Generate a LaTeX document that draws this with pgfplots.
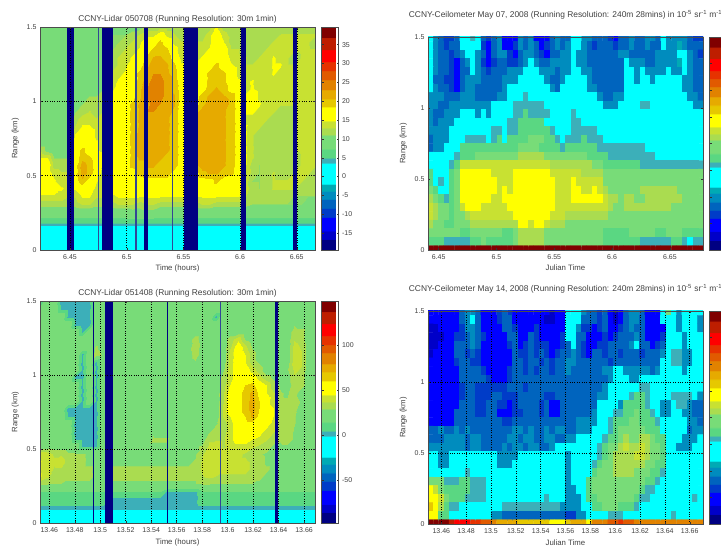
\documentclass[border=0pt]{standalone}
\usepackage{pgfplots}
\usepackage{pgfplotstable}
\usepackage{fontspec}
\setmainfont{Liberation Sans}
\pgfplotsset{compat=1.18}
\pgfplotsset{colormap={jetb}{
rgb255(0pt)=(0,0,130) rgb255(2.95pt)=(0,0,130)
rgb255(3pt)=(0,0,200) rgb255(5.45pt)=(0,0,200)
rgb255(5.5pt)=(0,0,255) rgb255(9.45pt)=(0,0,255)
rgb255(9.5pt)=(0,60,200) rgb255(11.95pt)=(0,60,200)
rgb255(12pt)=(0,100,190) rgb255(14.45pt)=(0,100,190)
rgb255(14.5pt)=(0,140,190) rgb255(16.95pt)=(0,140,190)
rgb255(17pt)=(0,170,180) rgb255(18.95pt)=(0,170,180)
rgb255(19pt)=(0,255,255) rgb255(24.95pt)=(0,255,255)
rgb255(25pt)=(60,175,185) rgb255(26.45pt)=(60,175,185)
rgb255(26.5pt)=(90,215,130) rgb255(28.95pt)=(90,215,130)
rgb255(29pt)=(120,220,120) rgb255(32.95pt)=(120,220,120)
rgb255(33pt)=(170,220,80) rgb255(34.95pt)=(170,220,80)
rgb255(35pt)=(200,225,50) rgb255(36.95pt)=(200,225,50)
rgb255(37pt)=(255,255,0) rgb255(40.95pt)=(255,255,0)
rgb255(41pt)=(230,200,0) rgb255(43.45pt)=(230,200,0)
rgb255(43.5pt)=(230,170,0) rgb255(45.95pt)=(230,170,0)
rgb255(46pt)=(225,130,0) rgb255(48.95pt)=(225,130,0)
rgb255(49pt)=(225,90,0) rgb255(51.45pt)=(225,90,0)
rgb255(51.5pt)=(230,50,0) rgb255(53.95pt)=(230,50,0)
rgb255(54pt)=(255,0,0) rgb255(57.45pt)=(255,0,0)
rgb255(57.5pt)=(190,30,0) rgb255(60.95pt)=(190,30,0)
rgb255(61pt)=(128,0,0) rgb255(64pt)=(128,0,0)
}}
\definecolor{navy}{RGB}{0,0,130}
\definecolor{thinb}{RGB}{50,70,150}
\definecolor{txt}{gray}{0.25}

% Lidar 05/07 : rows top to bottom, 40 columns
\pgfplotstableread[header=false]{
9 9 9 9 9 9 9 9 9 9  10 10 10 10 10 12 12 12 12 12  11 11 11 11 12 15 12 11 11 11  11 11 11 11 11 12 12 12 12 12
9 9 9 9 9 9 9 9 9 9  11 11 11 12 13 14 14 17 14 13  12 12 12 12 14 17 14 12 12 12  12 12 12 12 13 13 13 13 13 13
9 9 9 9 9 9 9 9 9 10  11 11 12 13 14 17 17 19 17 14  13 13 13 13 14 17 15 12 12 12  12 12 12 13 13 13 13 13 13 12
9 8 8 9 9 9 9 9 9 10  11 12 13 14 15 17 19 20 19 16  13 13 13 14 15 17 17 13 13 12  12 12 13 14 13 13 13 13 13 13
9 8 8 8 9 9 9 9 9 10  12 13 14 15 17 19 21 21 20 17  14 14 14 15 17 17 17 14 13 13  12 13 13 15 14 13 12 13 13 13
9 8 8 8 9 9 9 9 10 11  12 13 14 17 17 20 22 22 21 19  15 14 15 17 17 19 17 15 14 13  13 13 13 15 15 13 13 13 13 13
9 8 8 8 9 9 9 9 10 11  13 14 15 17 19 21 23 23 21 20  15 15 17 17 19 20 19 17 14 14  13 13 13 15 14 13 13 13 13 13
9 8 8 9 9 9 9 9 10 11  13 15 17 17 19 22 24 24 22 20  17 15 17 17 19 20 19 17 15 14  15 13 13 14 13 13 13 13 13 13
9 8 8 9 9 9 9 10 10 11  14 16 17 17 20 23 25 24 22 20  17 15 17 17 20 21 20 17 17 14  15 14 13 13 13 13 13 13 13 13
9 9 9 9 9 9 10 11 11 12  15 17 17 17 20 23 25 24 22 21  17 15 17 20 21 22 21 20 17 15  17 14 13 13 13 13 13 13 13 13
9 9 9 9 9 10 11 12 12 13  15 17 17 19 21 22 24 23 22 21  17 15 17 20 22 22 22 20 17 15  17 15 13 13 13 13 13 13 13 13
9 9 9 9 9 11 12 13 12 13  17 17 17 19 21 23 23 22 22 20  17 15 20 22 22 22 21 20 17 15  15 14 13 13 12 12 13 13 13 13
9 9 9 9 9 12 14 14 13 13  17 17 17 19 21 22 22 22 21 20  17 16 20 22 22 22 21 20 17 14  14 13 13 12 12 12 13 13 13 13
9 9 8 9 10 13 15 15 14 13  17 17 17 19 21 22 22 21 21 20  17 17 20 22 22 22 21 20 17 15  13 13 12 12 12 12 13 13 13 13
9 8 8 9 10 15 17 17 14 14  17 17 17 19 22 22 22 21 21 20  17 17 20 22 22 22 21 20 17 15  13 12 12 12 12 12 13 13 13 13
9 9 9 9 10 17 17 17 15 14  17 17 17 19 22 22 22 21 21 20  17 17 20 22 22 22 21 20 17 15  13 12 12 12 12 12 13 13 13 13
13 10 9 9 10 17 19 17 15 14  17 17 17 19 23 22 22 21 21 20  17 17 20 22 23 22 21 20 17 15  13 12 12 12 12 12 13 13 13 13
15 15 11 11 11 17 20 19 17 14  15 17 17 19 21 21 21 21 20 20  17 17 20 22 22 22 21 20 17 15  13 12 12 12 12 12 12 13 13 13
17 17 12 12 12 17 22 20 17 14  15 17 17 19 20 21 21 20 20 20  17 17 20 22 22 22 21 20 17 15  12 11 12 12 12 12 12 13 13 13
17 16 14 13 13 17 22 20 17 13  15 17 17 17 19 20 20 20 20 17  17 17 17 20 21 21 20 19 17 15  12 11 12 13 12 12 13 13 13 12
17 17 15 13 13 17 20 17 15 13  14 17 17 17 17 17 17 17 17 17  17 17 17 17 17 19 17 17 17 14  11 11 12 13 13 13 14 13 12 12
17 17 17 15 14 15 17 17 14 13  14 17 17 17 17 17 17 17 17 17  17 17 17 17 17 17 17 17 17 14  12 11 12 13 13 13 13 12 12 12
14 14 14 14 13 13 15 15 13 13  14 15 15 15 15 15 15 15 15 15  15 15 15 15 15 15 15 15 15 13  12 12 12 12 12 12 11 11 11 11
12 12 12 12 12 12 13 13 12 12  12 13 13 13 12 13 13 12 12 12  12 12 12 13 13 12 12 12 12 12  11 11 11 11 11 11 11 11 10 10
9 9 9 9 9 9 9 9 9 9  9 9 9 10 10 10 10 9 9 9  9 9 9 9 9 9 9 9 9 9  9 9 9 9 9 9 9 9 9 9
7 7 7 7 7 7 7 7 7 7  7 7 7 7 7 7 7 7 7 7  7 7 7 7 7 7 7 7 7 7  7 7 7 7 7 7 7 7 7 7
3 3 3 3 3 3 3 3 3 3  3 3 3 3 3 3 3 3 3 3  3 3 3 3 3 3 3 3 3 3  3 3 3 3 3 3 3 3 3 3
2 2 2 2 2 2 2 2 2 2  2 2 2 2 2 2 2 2 2 2  2 2 2 2 2 2 2 2 2 2  2 2 2 2 2 2 2 2 2 2
2 2 2 2 2 2 2 2 2 2  2 2 2 2 2 2 2 2 2 2  2 2 2 2 2 2 2 2 2 2  2 2 2 2 2 2 2 2 2 2
2 2 2 2 2 2 2 2 2 2  2 2 2 2 2 2 2 2 2 2  2 2 2 2 2 2 2 2 2 2  2 2 2 2 2 2 2 2 2 2
}\lidarA

% Lidar 05/14
\pgfplotstableread[header=false]{
1 24 24 1 1 1 1 1 24 24  24 24 24 24 24 24 24 24 24 24  24 24 24 24 24 24 24 24 24 24  24 24 24 24 24 24 24 24 24 24
24 24 24 1 1 1 1 1 24 24  24 24 24 24 24 24 24 24 24 24  24 24 24 24 24 24 24 24 24 24  24 24 24 24 24 24 24 24 24 24
24 24 24 24 1 1 1 1 24 24  24 24 24 24 24 24 24 24 24 24  24 24 24 24 24 1 24 24 24 24  24 24 24 24 24 24 24 24 24 24
24 24 24 24 24 1 1 1 24 24  24 24 24 24 24 24 24 24 24 24  24 24 24 24 24 24 24 24 24 24  24 24 24 24 24 24 28 24 24 24
24 24 24 24 24 24 1 24 24 24  24 24 24 24 24 24 24 24 24 24  24 24 24 24 24 24 24 24 24 24  24 24 24 24 24 24 33 33 24 24
24 24 24 24 24 24 24 24 24 24  24 24 24 24 24 24 24 24 24 24  24 24 33 24 24 24 24 33 42 28  24 24 24 24 24 24 36 33 24 24
24 24 24 24 24 24 24 24 30 24  24 24 24 24 24 24 24 24 24 24  24 24 36 24 28 24 24 36 52 40  28 24 24 24 24 24 40 36 24 24
24 24 24 24 24 24 1 24 33 28  24 24 24 24 24 24 24 24 24 24  24 24 33 24 24 24 24 40 52 45  33 24 24 24 24 24 41 38 24 24
24 24 24 24 24 24 1 24 1 24  24 24 24 24 24 24 24 24 24 24  24 24 28 24 28 24 24 40 52 45  33 28 24 24 24 24 41 38 24 24
24 24 24 24 24 24 1 24 1 24  24 24 24 24 24 24 24 24 24 24  24 24 24 24 24 24 28 41 52 52  41 33 24 24 24 28 38 36 24 24
24 24 24 24 24 1 1 24 1 24  24 24 24 24 24 24 24 24 24 24  24 24 24 24 24 24 33 41 52 56  52 41 33 28 24 24 36 33 24 24
24 24 24 24 24 24 1 24 1 24  24 24 24 24 24 24 24 24 24 24  24 24 24 24 24 24 33 45 52 60  64 52 45 33 28 24 33 33 24 24
24 24 24 24 24 24 1 24 1 24  24 24 24 24 24 24 24 24 24 24  24 24 24 24 24 24 36 52 56 64  72 56 45 38 30 28 33 24 24 24
24 24 24 24 24 24 1 24 1 24  24 24 24 24 24 24 24 24 24 24  24 24 24 24 24 24 36 52 56 64  74 60 52 38 30 30 33 28 24 24
24 24 24 24 1 1 1 1 1 24  24 24 24 24 24 24 24 24 24 24  24 24 24 24 24 24 38 52 56 64  75 60 52 45 33 30 33 24 24 24
24 24 24 24 1 1 1 1 1 24  24 24 24 24 24 24 24 24 24 24  24 24 24 24 24 24 38 45 56 60  72 56 52 45 33 33 30 24 24 24
24 24 24 24 24 1 1 1 1 24  24 24 24 24 24 24 24 24 24 24  24 24 24 24 24 28 33 41 52 56  56 52 52 41 33 36 30 24 24 24
24 24 24 24 24 1 1 1 1 24  24 24 24 24 24 24 28 24 24 24  24 24 24 24 28 33 33 41 52 52  52 52 41 38 33 36 28 24 24 24
24 24 24 24 24 1 1 1 1 24  24 24 24 24 24 24 30 30 30 24  24 24 24 24 36 36 36 41 52 52  45 41 38 33 30 33 28 24 24 24
24 24 24 24 24 24 1 1 1 24  28 28 28 28 28 28 28 28 28 28  28 28 28 30 38 41 36 38 41 41  38 36 33 28 28 28 24 24 24 24
42 41 36 36 30 30 30 28 28 24  28 28 28 28 28 28 28 28 28 28  28 28 28 36 41 41 38 38 38 36  33 30 28 28 28 28 28 28 28 28
45 41 38 41 33 30 30 28 28 24  28 28 28 28 28 28 28 28 28 28  28 28 30 38 41 41 38 38 38 38  36 33 28 28 28 28 28 28 28 28
45 41 36 36 33 30 30 30 28 24  30 30 30 30 30 30 30 30 30 30  30 30 30 38 41 41 38 38 38 38  36 33 30 28 28 28 28 28 28 28
45 38 33 33 30 30 30 30 28 24  30 30 30 30 30 30 30 30 30 30  30 30 30 36 38 36 36 36 36 36  33 30 28 28 28 28 28 28 28 28
28 28 28 28 28 28 28 28 28 28  28 28 28 28 28 28 28 28 28 28  28 28 28 28 28 28 28 28 28 28  28 28 28 28 28 28 28 28 28 28
12 12 12 12 12 12 12 12 12 12  12 12 12 12 12 12 12 12 1 1  1 1 1 12 12 12 12 12 12 12  12 12 12 12 12 12 12 12 12 12
12 12 12 12 12 12 12 12 12 12  1 1 1 1 1 1 1 1 1 1  1 1 1 12 12 12 12 12 12 12  12 12 12 12 12 12 12 12 12 12
1 1 1 1 1 1 1 1 1 1  1 1 1 1 1 1 1 1 1 1  1 1 1 1 1 1 1 1 1 1  1 1 1 1 1 1 1 1 1 1
-13 -13 -13 -13 -13 -13 -13 -13 -13 -13  -13 -13 -13 -13 -13 -13 -13 -13 -13 -13  -13 -13 -13 -13 -13 -13 -13 -13 -13 -13  -13 -13 -13 -13 -13 -13 -13 -13 -13 -13
-13 -13 -13 -13 -13 -13 -13 -13 -13 -13  -13 -13 -13 -13 -13 -13 -13 -13 -13 -13  -13 -13 -13 -13 -13 -13 -13 -13 -13 -13  -13 -13 -13 -13 -13 -13 -13 -13 -13 -13
}\lidarB

% Ceilometer May 07: rows top to bottom, 52 columns
\pgfplotstableread[header=false]{
22 16 13 11 11 13 22 22 26 22  13 11 13 16 7 7 7 16 13 16  7 7 7 13 16 13 13 22 22 16  16 13 13 13 11 7 13 13 16 13  13 16 16 13 22 16 16 16 16 13  11 11
22 16 13 11 13 13 22 22 22 22  11 7 13 16 7 7 11 16 13 16  13 7 11 13 16 13 16 22 22 16  13 11 13 13 13 11 13 13 16 13  13 16 13 13 22 16 16 18 16 13  13 13
22 16 13 13 11 13 16 22 22 16  13 7 13 16 16 11 7 13 16 16  13 11 7 13 13 16 16 22 16 16  13 13 13 13 13 13 16 16 13 13  13 13 13 16 16 16 16 22 22 16  13 11
22 16 13 13 11 7 13 16 22 16  11 7 11 13 13 11 11 13 16 22  16 13 13 16 16 16 16 22 16 16  13 13 13 13 13 13 13 22 16 16  16 13 13 16 16 16 16 18 22 16  13 13
22 16 13 13 11 7 13 13 22 16  13 11 13 13 13 16 16 16 22 22  22 16 16 16 13 16 16 22 22 16  16 13 13 13 13 13 13 22 22 16  22 16 16 16 16 22 16 16 22 16  13 13
22 13 13 11 11 7 13 16 16 16  13 13 13 13 16 16 16 22 22 22  22 22 16 13 13 16 22 22 22 22  16 13 13 13 13 13 13 22 22 16  22 22 16 22 22 22 22 22 16 16  13 13
22 16 13 13 11 7 13 16 16 13  13 13 13 13 16 22 22 22 22 22  22 22 22 16 13 22 22 22 22 22  16 16 13 13 13 13 13 22 22 22  22 22 22 22 22 22 22 22 16 16  13 13
16 16 16 13 13 13 16 16 16 13  13 13 13 16 16 22 22 22 26 22  22 22 22 22 22 22 22 22 22 22  22 22 16 13 13 16 16 22 22 22  22 22 22 22 22 22 22 22 22 16  16 13
16 16 13 13 16 16 16 16 16 16  16 16 22 22 22 22 26 26 26 26  26 26 22 22 22 22 22 22 22 22  22 22 22 16 16 16 22 22 22 22  26 26 22 22 22 22 22 22 22 22  16 16
16 13 13 16 16 16 22 22 22 16  22 16 22 22 22 22 26 26 28 26  26 26 26 22 22 22 22 26 22 22  22 22 22 22 22 22 22 22 22 22  22 22 22 22 22 22 22 22 22 22  22 22
16 13 16 16 16 22 22 22 22 22  22 22 22 22 22 26 26 28 28 28  28 28 22 22 22 22 22 26 26 22  22 22 22 22 22 22 22 22 22 22  22 22 22 22 22 22 22 22 22 22  22 22
16 16 16 16 22 22 22 22 22 22  22 22 26 26 22 26 26 28 28 28  28 28 28 26 22 22 22 26 26 26  26 26 22 22 22 22 22 22 22 22  22 22 22 22 22 22 22 22 22 22  22 22
13 16 16 16 22 22 22 26 26 26  26 22 26 28 22 28 28 28 28 31  31 31 28 28 26 22 26 26 26 28  26 26 26 22 22 22 22 22 22 22  22 22 22 22 22 22 22 22 22 22  22 22
13 16 16 22 22 22 28 28 28 28  28 28 28 28 28 28 28 31 31 31  31 28 28 28 28 26 28 28 28 28  28 28 26 26 26 26 26 26 26 26  26 22 22 22 22 22 22 22 22 22  22 22
22 22 22 22 22 26 28 28 28 31  31 31 31 31 31 31 31 34 34 34  34 34 31 31 31 31 31 31 31 31  28 28 28 28 26 26 26 26 26 26  26 26 26 22 22 22 22 22 22 22  22 22
22 22 22 22 26 28 36 36 36 36  36 36 36 36 36 36 36 36 36 36  36 36 36 34 34 34 34 34 34 34  34 31 31 28 28 28 28 28 28 28  26 26 26 26 26 26 26 26 26 26  26 26
28 22 22 22 28 31 39 39 39 39  39 39 36 36 36 36 39 39 39 39  39 39 39 36 36 36 36 36 36 34  34 34 34 31 31 31 31 31 31 31  31 31 31 31 31 31 31 31 31 31  31 31
28 22 26 22 28 31 39 39 39 39  39 39 39 36 36 36 39 39 39 39  39 39 39 39 36 36 36 39 36 36  36 36 36 31 31 31 31 31 31 31  31 31 31 31 31 31 31 31 31 31  31 31
31 28 22 22 28 31 39 39 39 39  39 39 39 36 39 36 39 39 39 39  39 39 39 39 36 36 36 39 39 36  36 39 36 34 31 31 31 31 31 31  34 34 34 34 34 34 34 31 31 31  31 31
34 31 28 26 28 31 39 39 39 39  39 39 36 36 39 39 39 39 39 39  39 39 39 39 36 36 36 39 39 39  39 39 39 36 34 34 31 34 34 31  31 34 34 34 34 34 34 34 31 31  31 31
36 34 31 31 28 31 36 39 39 39  36 36 36 36 36 39 39 39 39 39  39 39 39 39 36 36 36 36 36 36  36 36 36 36 34 31 31 34 34 34  34 34 34 34 34 34 31 31 31 31  31 31
36 34 31 31 28 31 31 34 36 36  36 36 36 36 36 36 39 39 39 39  39 39 39 36 36 36 34 34 34 34  34 34 34 34 31 31 31 31 31 31  31 31 31 31 31 31 31 31 31 31  31 31
34 31 31 28 28 31 31 31 34 34  34 34 34 34 34 34 34 39 39 36  39 39 36 34 34 34 31 31 31 31  31 31 31 31 31 31 31 31 31 31  31 31 31 31 31 31 31 31 31 31  31 31
31 31 31 31 31 31 28 28 31 31  31 31 31 31 28 28 31 34 34 34  34 34 31 31 31 31 31 31 31 31  31 31 31 28 28 28 28 28 31 31  31 31 31 28 28 31 31 31 28 28  28 28
28 28 28 26 26 26 26 26 28 28  31 28 28 28 28 28 31 34 34 34  34 34 31 31 31 31 31 31 31 31  31 31 31 28 28 28 28 28 28 28  26 26 26 26 26 26 28 28 26 22  26 26
63 63 63 63 63 63 63 63 63 63  63 63 63 63 63 63 63 63 63 63  63 63 63 63 63 63 63 63 63 63  63 63 63 63 63 63 63 63 63 63  63 63 63 63 63 63 63 63 63 63  63 63
}\ceilA

% Ceilometer May 14
\pgfplotstableread[header=false]{
7 7 7 7 7 7 13 16 16 13  7 7 7 11 13 11 7 7 7 7  7 7 7 5 7 7 22 22 22 16  13 13 11 13 7 5 7 13 16 16  13 7 7 7 22 31 22 16 22 22  22 22
7 7 7 7 7 7 13 16 22 13  7 7 7 11 13 13 7 7 7 7  7 7 5 5 7 7 22 22 22 13  13 13 11 13 7 5 7 13 16 16  13 7 7 7 22 22 22 16 22 22  22 16
5 5 7 7 7 7 11 16 16 13  7 7 7 7 13 13 11 7 7 7  11 7 7 7 7 7 22 22 16 11  11 7 11 13 7 7 11 13 16 13  13 7 7 7 7 22 22 16 22 22  22 16
5 3 5 7 7 11 11 13 16 13  11 7 7 7 7 13 13 7 7 13  11 7 7 7 7 11 22 22 13 13  7 7 7 11 7 11 13 13 13 16  13 7 7 7 11 22 22 22 16 22  22 22
5 5 7 7 7 13 13 13 16 13  7 7 7 7 7 11 13 7 11 13  11 11 11 7 7 11 13 22 13 11  7 7 11 11 13 13 13 13 16 22  13 13 7 11 13 22 22 22 16 22  22 22
5 7 7 7 7 13 13 11 13 11  7 7 7 7 7 7 13 11 11 13  11 13 11 7 11 13 13 16 13 11  7 13 13 11 13 13 11 13 13 13  11 13 13 13 16 22 26 26 16 16  22 22
7 7 7 7 7 11 13 13 11 11  7 7 7 7 7 7 13 13 11 13  13 11 13 11 13 13 16 16 13 13  13 13 13 13 11 13 13 13 13 13  13 13 13 13 22 22 26 26 16 16  22 22
7 7 7 7 7 7 13 13 13 13  11 7 7 7 7 11 13 13 11 13  11 13 13 11 13 13 16 13 13 13  13 13 13 16 16 22 22 16 16 16  16 16 13 16 22 22 22 22 16 22  22 22
7 7 7 7 7 7 13 13 13 13  13 11 7 7 7 11 13 13 13 13  13 13 13 13 13 13 13 13 13 13  13 13 13 13 16 22 22 22 16 16  22 22 22 22 22 22 22 22 22 22  22 22
7 7 7 7 7 7 11 13 13 11  11 11 11 11 11 13 13 13 11 13  13 13 13 13 13 13 13 13 13 13  13 13 13 16 22 22 22 22 22 22  26 26 22 22 22 22 22 22 22 22  22 22
7 7 7 7 7 7 11 13 13 11  11 11 13 13 11 11 11 13 13 13  13 13 11 11 13 13 13 13 13 13  13 13 16 16 22 22 22 22 26 28  28 26 22 22 22 22 26 26 26 26  22 16
7 7 7 7 7 7 13 13 13 11  11 13 13 11 11 7 11 13 13 13  13 11 13 7 7 13 13 13 13 13  13 13 22 22 22 22 16 28 28 28  28 26 22 22 16 16 22 26 26 16  13 13
7 7 7 7 7 13 13 13 13 11  11 13 13 7 7 7 11 11 13 13  13 11 13 7 7 13 13 13 13 13  13 16 22 22 22 26 26 28 28 31  28 28 26 22 16 16 22 22 16 16  13 13
7 7 7 7 7 13 13 13 13 13  13 13 13 13 11 11 13 13 13 13  13 13 13 13 13 13 13 13 16 16  16 16 22 22 26 28 28 28 31 31  28 28 28 26 22 22 22 22 22 16  16 13
13 13 16 13 13 16 13 16 13 13  13 13 13 13 13 13 16 16 13 16  13 13 16 13 16 16 13 13 16 16  16 22 22 22 26 28 31 31 31 31  31 28 28 28 22 22 22 22 22 13  16 16
13 13 13 16 16 16 16 13 16 16  13 13 13 13 13 16 16 13 16 16  13 13 16 16 13 13 16 16 22 22  22 22 22 26 28 28 31 34 31 31  34 34 31 28 28 22 22 22 16 16  16 22
16 16 16 16 16 16 16 13 16 16  13 13 13 13 16 13 16 16 13 16  16 13 13 16 22 22 22 22 22 22  22 22 26 28 31 31 34 36 34 34  36 34 31 31 28 22 22 16 16 16  22 22
22 22 16 16 22 22 22 22 22 22  22 22 22 16 16 16 16 22 22 22  22 22 22 22 22 22 16 22 22 22  22 22 26 28 31 34 34 34 34 36  36 34 31 31 28 22 22 22 22 22  22 22
22 22 16 16 22 22 22 22 22 22  22 22 22 16 16 16 22 22 22 22  22 22 22 22 22 22 16 22 22 22  22 26 28 31 31 34 34 34 34 34  34 31 31 28 28 22 22 22 22 22  22 22
22 22 22 22 22 22 22 26 22 22  22 22 22 22 22 22 22 22 22 22  22 22 22 22 22 22 16 22 22 22  22 28 31 31 31 34 34 34 34 31  31 31 28 28 26 22 22 22 22 22  22 22
31 31 31 26 26 26 28 28 26 26  26 22 22 22 22 22 22 22 22 22  22 22 22 22 22 22 16 22 22 22  28 31 31 31 31 31 31 31 31 31  31 28 28 26 22 22 22 22 22 22  22 22
39 36 31 28 28 28 28 28 26 26  26 22 22 22 22 22 22 22 22 22  22 22 22 22 22 22 16 16 22 22  28 31 31 31 31 31 31 31 31 31  28 26 26 22 22 22 22 22 22 22  22 22
39 39 36 31 28 28 28 26 26 26  26 22 22 22 22 22 22 22 22 22  22 22 26 22 22 22 16 16 16 22  28 28 31 31 31 31 31 31 31 28  26 26 22 22 22 22 22 22 22 22  26 22
42 39 34 28 26 26 22 22 22 22  22 22 22 22 26 26 26 26 26 26  26 26 26 26 26 16 16 16 16 22  22 28 28 31 31 31 28 28 28 26  22 22 22 22 22 22 22 22 22 22  22 22
39 39 28 28 22 22 22 22 22 22  22 22 16 16 13 13 13 13 13 13  13 13 13 13 13 13 11 11 16 16  22 22 22 22 26 26 26 22 22 22  22 22 22 22 22 22 26 22 22 22  22 22
63 63 63 62 60 56 56 54 52 52  50 50 47 45 45 44 44 43 43 42  42 42 41 40 40 39 43 44 44 44  40 46 47 48 49 51 52 50 49 48  48 48 48 48 47 47 47 47 47 47  47 47
}\ceilB

% Turn a wide table into the explicit coordinates of a grid plot
\newcommand\makegrid[8]{%
  \gdef#2{}%
  \pgfmathtruncatemacro\rlast{#3-1}%
  \pgfmathtruncatemacro\clast{#4-1}%
  \foreach \r in {0,...,\rlast}{%
    \pgfmathsetmacro\yy{#7-\r*#8}%
    \foreach \c in {0,...,\clast}{%
      \pgfmathsetmacro\xx{#5+\c*#6}%
      \pgfplotstablegetelem{\r}{[index]\c}\of#1%
      \xdef#2{#2 (\xx,\yy) [\pgfplotsretval]}%
    }%
  }%
}
\makegrid{\lidarA}{\gridA}{30}{40}{6.4235}{0.0062205}{1.5}{0.051724}
\makegrid{\lidarB}{\gridB}{30}{40}{13.4527}{0.0055359}{1.5}{0.051724}
\makegrid{\ceilA}{\gridC}{26}{52}{6.4431}{0.004573}{1.5}{0.06}
\makegrid{\ceilB}{\gridD}{26}{52}{13.4514}{0.004258}{1.5}{0.06}

\newcommand\heat[2]{%
  \edef\tmp{\noexpand\addplot[matrix plot*, mesh/cols=#2, point meta=explicit] coordinates {#1};}\tmp}
\newcommand\smooth[2]{%
  \edef\tmp{\noexpand\addplot[surf, shader=interp, mesh/cols=#2, point meta=explicit] coordinates {#1};}\tmp}
\newcommand\stripe[3][navy]{%
  \addplot[fill=#1, draw=none, forget plot] coordinates {(#2,0) (#2,1.5) (#3,1.5) (#3,0)} --cycle;}

\pgfplotsset{
  panel/.style={
    scale only axis, width=275pt, enlargelimits=false, axis on top,
    ymin=0, ymax=1.5, ytick={0,0.5,1,1.5}, yticklabels={0,0.5,1,1.5},
    tick align=inside, major tick length=2pt,
    tick style={black!80, line width=0.4pt},
    axis line style={black!70, line width=0.5pt},
    tick label style={font=\fontsize{7}{7}\selectfont, text=txt,
       /pgf/number format/fixed, /pgf/number format/assume math mode=true},
    xticklabel style={yshift=-1.5pt},
    xtick pos=both, ytick pos=both,
    xticklabel pos=bottom, yticklabel pos=left,
    xlabel style={font=\fontsize{7.8}{8}\selectfont, text=txt, yshift=1.5pt},
    ylabel style={font=\fontsize{7.8}{8}\selectfont, text=txt, yshift=1pt},
    title style={font=\fontsize{8.4}{9}\selectfont, text=txt},
    grid style={black, dotted, line width=0.5pt},
    colorbar,
  },
  cbar/.style={colorbar style={
    scale only axis, width=17pt,
    at={(parent axis.north east)}, anchor=north west, xshift=-2pt,
    ytick={#1}, tick align=inside, major tick length=2pt,
    tick style={black!80, line width=0.4pt},
    axis line style={black!70, line width=0.5pt},
    ytick pos=both, yticklabel pos=right,
    tick label style={font=\fontsize{7}{7}\selectfont, text=txt,
       /pgf/number format/fixed, /pgf/number format/assume math mode=true},
  }},
}

\begin{document}
\begin{tikzpicture}[x=1pt,y=1pt]
\useasboundingbox (0,0) rectangle (721,548);
\clip (0,0) rectangle (721,548);

\begin{axis}[panel, at={(40pt,298pt)}, anchor=south west, height=223pt,
  xmin=6.4235, xmax=6.6661, xtick={6.45,6.5,6.55,6.6,6.65}, grid=major,
  point meta min=-19.5, point meta max=39.7, cbar={-15,-10,-5,0,5,10,15,20,25,30,35},
  xlabel={Time (hours)}, ylabel={Range (km)},
  title={CCNY-Lidar 050708 (Running Resolution: 30m 1min)}, title style={yshift=-6pt}]
\smooth{\gridA}{40}
\stripe{6.4473}{6.4535}
\stripe[thinb]{6.4750}{6.4758}
\stripe{6.4785}{6.4876}
\stripe[thinb]{6.5076}{6.5088}
\stripe{6.5153}{6.5191}
\stripe[thinb]{6.5397}{6.5408}
\stripe{6.5502}{6.5628}
\stripe{6.6008}{6.6052}
\stripe{6.6467}{6.6502}
\end{axis}

\begin{axis}[panel, at={(428pt,298pt)}, anchor=south west, height=213pt,
  xmin=6.4408, xmax=6.6786, xtick={6.45,6.5,6.55,6.6,6.65},
  point meta min=0, point meta max=64, cbar={8,16,24,32,40,48,56},
  colorbar style={yticklabels={}},
  xlabel={Julian Time}, ylabel={Range (km)},
  title={CCNY-Ceilometer May 07, 2008 (Running Resolution: 240m 28mins) in 10\textsuperscript{-5} sr\textsuperscript{-1} m\textsuperscript{-1}},
  title style={yshift=8pt}]
\heat{\gridC}{52}
\end{axis}

\begin{axis}[panel, at={(40pt,25pt)}, anchor=south west, height=222pt,
  xmin=13.4527, xmax=13.6686, xtick={13.46,13.48,13.5,13.52,13.54,13.56,13.58,13.6,13.62,13.64,13.66}, grid=major,
  point meta min=-97.8, point meta max=148.5, cbar={-50,0,50,100},
  xlabel={Time (hours)}, ylabel={Range (km)},
  title={CCNY-Lidar 051408 (Running Resolution: 30m 1min)}, title style={yshift=-6pt}]
\smooth{\gridB}{40}
\stripe{13.4941}{13.4954}
\stripe{13.5040}{13.5103}
\stripe{13.5521}{13.5535}
\stripe[thinb]{13.5940}{13.5951}
\stripe{13.6375}{13.6398}
\end{axis}

\begin{axis}[panel, at={(428pt,24pt)}, anchor=south west, height=213pt,
  xmin=13.4493, xmax=13.6707, xtick={13.46,13.48,13.5,13.52,13.54,13.56,13.58,13.6,13.62,13.64,13.66}, grid=major,
  point meta min=0, point meta max=64, cbar={8,16,24,32,40,48,56},
  colorbar style={yticklabels={}},
  xlabel={Julian Time}, ylabel={Range (km)},
  title={CCNY-Ceilometer May 14, 2008 (Running Resolution: 240m 28mins) in 10\textsuperscript{-5} sr\textsuperscript{-1} m\textsuperscript{-1}},
  title style={yshift=8pt}]
\heat{\gridD}{52}
\end{axis}
\end{tikzpicture}
\end{document}
